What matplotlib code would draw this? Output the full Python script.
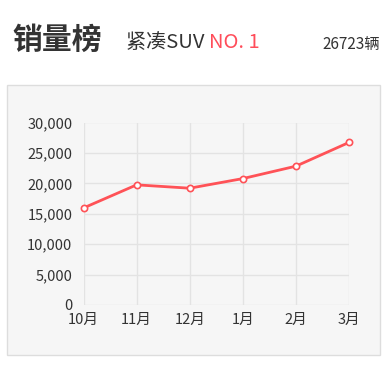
import matplotlib
matplotlib.use("Agg")
import matplotlib.pyplot as plt
from matplotlib.patches import Rectangle
from matplotlib.ticker import FuncFormatter

plt.rcParams['font.family'] = ['Noto Sans CJK SC', 'DejaVu Sans']

# data
months = ['10月', '11月', '12月', '1月', '2月', '3月']
sales = [15950, 19750, 19200, 20780, 22820, 26723]
y_ticks = [0, 5000, 10000, 15000, 20000, 25000, 30000]

title = '销量榜'
category = '紧凑SUV'
rank = 'NO. 1'
total_label = '26723辆'

W, H = 389, 366
fig = plt.figure(figsize=(W / 100, H / 100), dpi=100)
fig.patch.set_facecolor('white')

# grey panel behind the chart
panel = Rectangle((7 / W, 1 - 355 / H), (380 - 7) / W, (355 - 84.5) / H,
                  transform=fig.transFigure, facecolor='#f6f6f6',
                  edgecolor='#dddddd', linewidth=1, zorder=-5)
fig.patches.append(panel)

# header texts
fig.text(12 / W, 1 - 40 / H, title, fontsize=21.5, fontweight='bold',
         color='#333333', va='center', ha='left')
t1 = fig.text(126 / W, 1 - 42 / H, category + ' ', fontsize=14.5,
              color='#333333', va='center', ha='left')
fig.canvas.draw()
bb = t1.get_window_extent()
fig.text(bb.x1 / W, 1 - 42 / H, rank, fontsize=14.5, color='#ff4d5a',
         va='center', ha='left')
fig.text(380 / W, 1 - 44 / H, total_label, fontsize=11, color='#333333',
         va='center', ha='right')

# chart
ax = fig.add_axes([83.5 / W, 1 - 305 / H, (349 - 83.5) / W, (305 - 122.5) / H])
ax.set_facecolor('none')
x = list(range(len(months)))
ax.plot(x, sales, color='#ff5257', linewidth=2, marker='o', markersize=4.5,
        markerfacecolor='white', markeredgecolor='#ff5257',
        markeredgewidth=1.2, zorder=3, clip_on=False)

ax.set_xlim(0, len(months) - 1)
ax.set_ylim(0, 30000)
ax.set_xticks(x)
ax.set_xticklabels(months)
ax.set_yticks(y_ticks)
ax.yaxis.set_major_formatter(FuncFormatter(lambda v, p: f'{int(v):,}'))
ax.grid(True, color='#e3e3e3', linewidth=1)
ax.set_axisbelow(True)
for s in ax.spines.values():
    s.set_visible(False)
ax.tick_params(length=0, labelsize=10.5, colors='#333333', pad=8)
ax.tick_params(axis='x', pad=6)

fig.savefig('out.png', dpi=100)
